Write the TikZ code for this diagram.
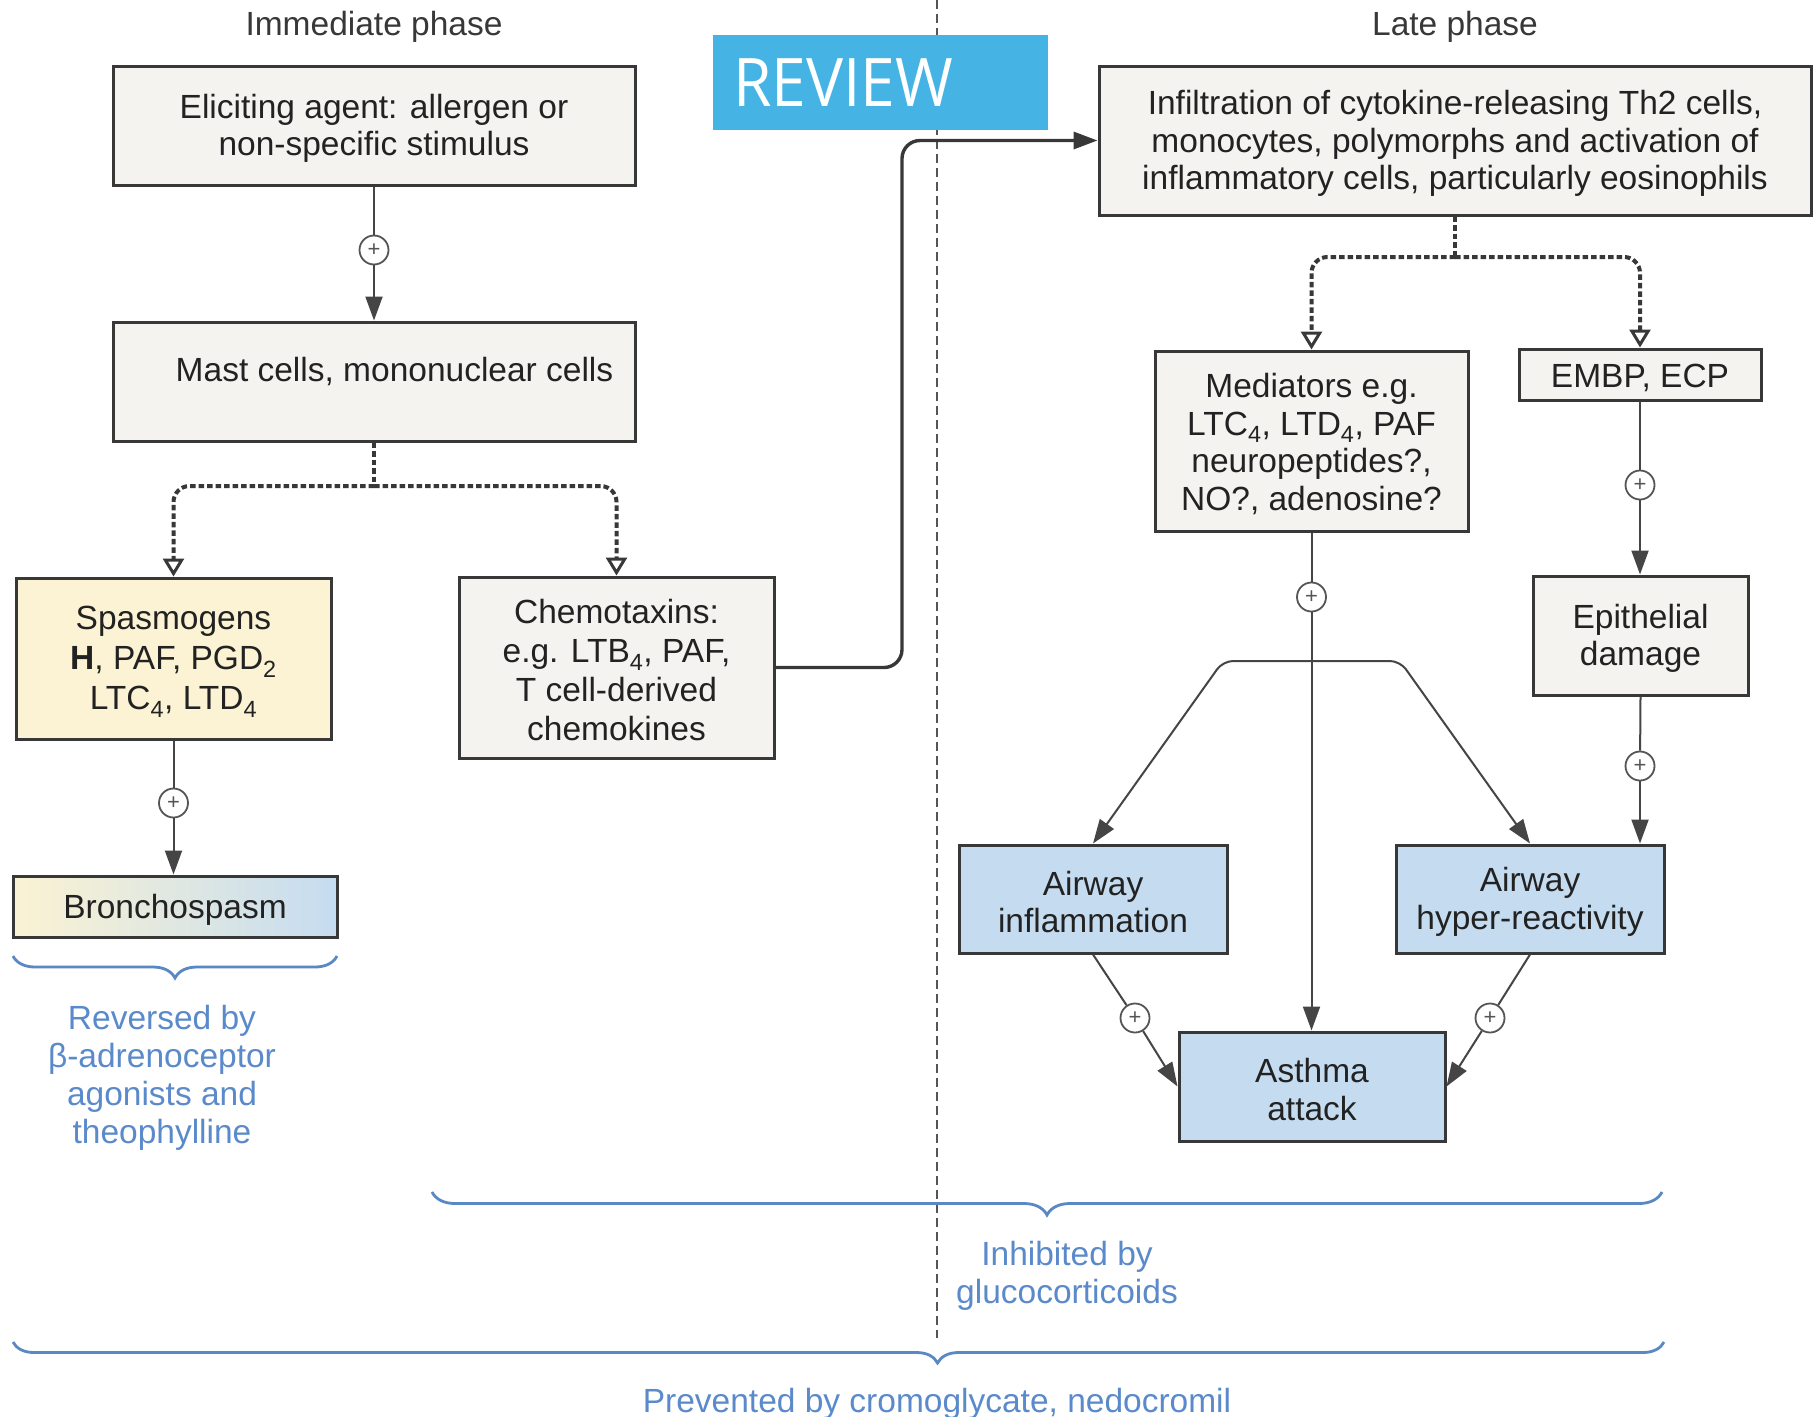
\documentclass[tikz,border=0pt]{standalone}
\usepackage{fontspec}
\setmainfont{Liberation Sans}
\newfontfamily\revfont[FakeStretch=0.93]{Open Sans}
\usetikzlibrary{arrows.meta,decorations.pathreplacing}
\newcommand{\topst}{\rule{0pt}{30pt}}
\definecolor{boxgray}{HTML}{F4F3F0}
\definecolor{boxyel}{HTML}{FBF3D3}
\definecolor{boxblue}{HTML}{C5DCF0}
\definecolor{bord}{HTML}{383838}
\definecolor{txt}{HTML}{222222}
\definecolor{braceblue}{HTML}{5A88C5}
\definecolor{labelblue}{HTML}{5B8ACB}
\definecolor{revblue}{HTML}{45B4E4}
\definecolor{linegray}{HTML}{454545}
\definecolor{plusgray}{HTML}{555555}
\definecolor{divgray}{HTML}{555555}
\begin{document}
\begin{tikzpicture}[x=1pt,y=-1pt,
  every node/.style={font=\fontsize{33.5}{37.5}\selectfont, text=txt},
  bx/.style={draw=bord, line width=3pt, fill=boxgray, align=center, inner sep=0pt},
  ybx/.style={bx, fill=boxyel},
  bbx/.style={bx, fill=boxblue},
  plusc/.style={circle, draw=plusgray, line width=1.8pt, fill=white, minimum size=29pt, inner sep=0pt, font=\fontsize{22}{22}\selectfont, text=plusgray},
  conn/.style={draw=linegray, line width=2pt},
  tipf/.style={-{Triangle[length=24pt,width=17pt]}},
  tipb/.style={{Triangle[length=24pt,width=17pt]}-{Triangle[length=24pt,width=17pt]}},
  dots/.style={draw=bord, line width=4pt, dash pattern=on 5.5pt off 3pt, rounded corners=16pt},
  tipo/.style={-{Triangle[open,length=18pt,width=21pt,line width=3pt]}},
  brc/.style={draw=braceblue, line width=2.8pt, decorate, decoration={brace, mirror, amplitude=#1}},
  bluetxt/.style={text=labelblue, align=center, font=\fontsize{33.5}{38}\selectfont},
]
\fill[white] (0,0) rectangle (1814,1416);
\useasboundingbox (0,0) rectangle (1814,1416);

% divider
\draw[draw=divgray, line width=1.6pt, dash pattern=on 9pt off 5pt] (937,0) -- (937,1338);

% phase labels
\node[text=bord] (imm) at (374,26.5) {Immediate phase};
\node[text=bord] (late) at (1455,26.5) {Late phase};

% review badge
\node[fill=revblue, anchor=north west, minimum width=335pt, minimum height=95pt, text width=295pt, inner xsep=20pt, inner ysep=0pt, align=left, text=white, font=\revfont\fontsize{67}{67}\selectfont] (review) at (713,35) {REVIEW};

% boxes
\node[bx, minimum width=522pt, minimum height=119pt] (elic) at (374,125.5) {\topst Eliciting agent: allergen or\\non-specific stimulus};
\node[bx, minimum width=522pt, minimum height=119pt] (mast) at (374,381.5) {};
\node (mastt) at (394.5,372) {Mast cells, mononuclear cells};
\node[ybx, minimum width=315pt, minimum height=161pt, font=\fontsize{33.5}{40}\selectfont] (spas) at (173.5,658.5) {\topst Spasmogens\\\textbf{H}, PAF, PGD\textsubscript{2}\\LTC\textsubscript{4}, LTD\textsubscript{4}};
\node[bx, minimum width=315pt, minimum height=181pt, font=\fontsize{33.5}{39}\selectfont] (chem) at (616.5,667.5) {\topst Chemotaxins:\\e.g. LTB\textsubscript{4}, PAF,\\T cell-derived\\chemokines};
\node[bx, left color=boxyel, right color=boxblue, minimum width=324pt, minimum height=61pt] (bron) at (175,906.5) {\topst Bronchospasm};
\node[bx, minimum width=712pt, minimum height=149pt] (infil) at (1455,140.5) {\topst Infiltration of cytokine-releasing Th2 cells,\\monocytes, polymorphs and activation of\\inflammatory cells, particularly eosinophils};
\node[bx, minimum width=313pt, minimum height=180pt] (med) at (1311.5,441) {\topst Mediators e.g.\\LTC\textsubscript{4}, LTD\textsubscript{4}, PAF\\neuropeptides?,\\NO?, adenosine?};
\node[bx, minimum width=242pt, minimum height=51pt] (embp) at (1640,374.5) {\topst EMBP, ECP};
\node[bx, minimum width=215pt, minimum height=119pt] (epi) at (1640.5,635.5) {\topst Epithelial\\damage};
\node[bbx, minimum width=268pt, minimum height=108pt] (ainf) at (1093,899) {\topst Airway\\inflammation};
\node[bbx, minimum width=268pt, minimum height=108pt] (ahyp) at (1530,899) {\topst Airway\\hyper-reactivity};
\node[bbx, minimum width=266pt, minimum height=109pt] (asth) at (1312,1086.5) {\topst Asthma\\attack};

% immediate phase connectors
\node[plusc] (p1) at (374,250) {+};
\draw[conn] (elic.south) -- (p1);
\draw[conn,tipf] (p1) -- (mast.north);

\coordinate (s1) at (374,486);
\draw[dots] (mast.south) -- (s1);
\draw[dots,tipo] (s1) -| (spas.north);
\draw[dots,tipo] (s1) -| (chem.north);

\node[plusc] (p2) at (173.5,803) {+};
\draw[conn] (spas.south) -- (p2);
\draw[conn,tipf] (p2) -- (p2 |- bron.north);

\coordinate (c1) at (902,0);
\draw[draw=bord, line width=3.4pt, rounded corners=18pt, tipf] (chem.east) -| (c1 |- infil.west) -- (infil.west);

% late phase connectors
\coordinate (s2) at (1455,257);
\draw[dots] (infil.south) -- (s2);
\draw[dots,tipo] (s2) -| (med.north);
\draw[dots,tipo] (s2) -| (embp.north);

\node[plusc] (p3) at (1640,485) {+};
\draw[conn] (embp.south) -- (p3);
\draw[conn,tipf] (p3) -- (p3 |- epi.north);

\node[plusc] (p4) at (1640,766) {+};
\draw[conn] (epi.south) -- (p4);
\draw[conn,tipf] (p4) -- (p4 |- ahyp.north);

\node[plusc] (p5) at (1311.5,597) {+};
\draw[conn] (med.south) -- (p5);
\draw[conn,tipf] (p5) -- (p5 |- asth.north);

\coordinate (bl) at (1223,661);
\coordinate (br) at (1400,661);
\draw[conn, tipb, rounded corners=10pt] (ainf.north) -- (bl) -- (br) -- (ahyp.north);

\node[plusc] (p6) at (1135,1018) {+};
\draw[conn] (ainf.south) -- (p6);
\draw[conn,tipf] (p6) -- (asth.west);
\node[plusc] (p7) at (1490,1018) {+};
\draw[conn] (ahyp.south) -- (p7);
\draw[conn,tipf] (p7) -- (asth.east);

% braces and notes
\draw[brc=22pt] (13,956) -- (337,956);
\draw[brc=23pt] (432,1192) -- (1662,1192);
\draw[brc=21pt, decoration={aspect=0.56}] (13,1342) -- (1664,1342);

\node[bluetxt] (revnote) at (162,1077.5) {Reversed by\\β-adrenoceptor\\agonists and\\theophylline};
\node[bluetxt] (inhnote) at (1067,1276) {Inhibited by\\glucocorticoids};
\node[bluetxt] (prevnote) at (937,1403.5) {Prevented by cromoglycate, nedocromil};
\end{tikzpicture}
\end{document}
